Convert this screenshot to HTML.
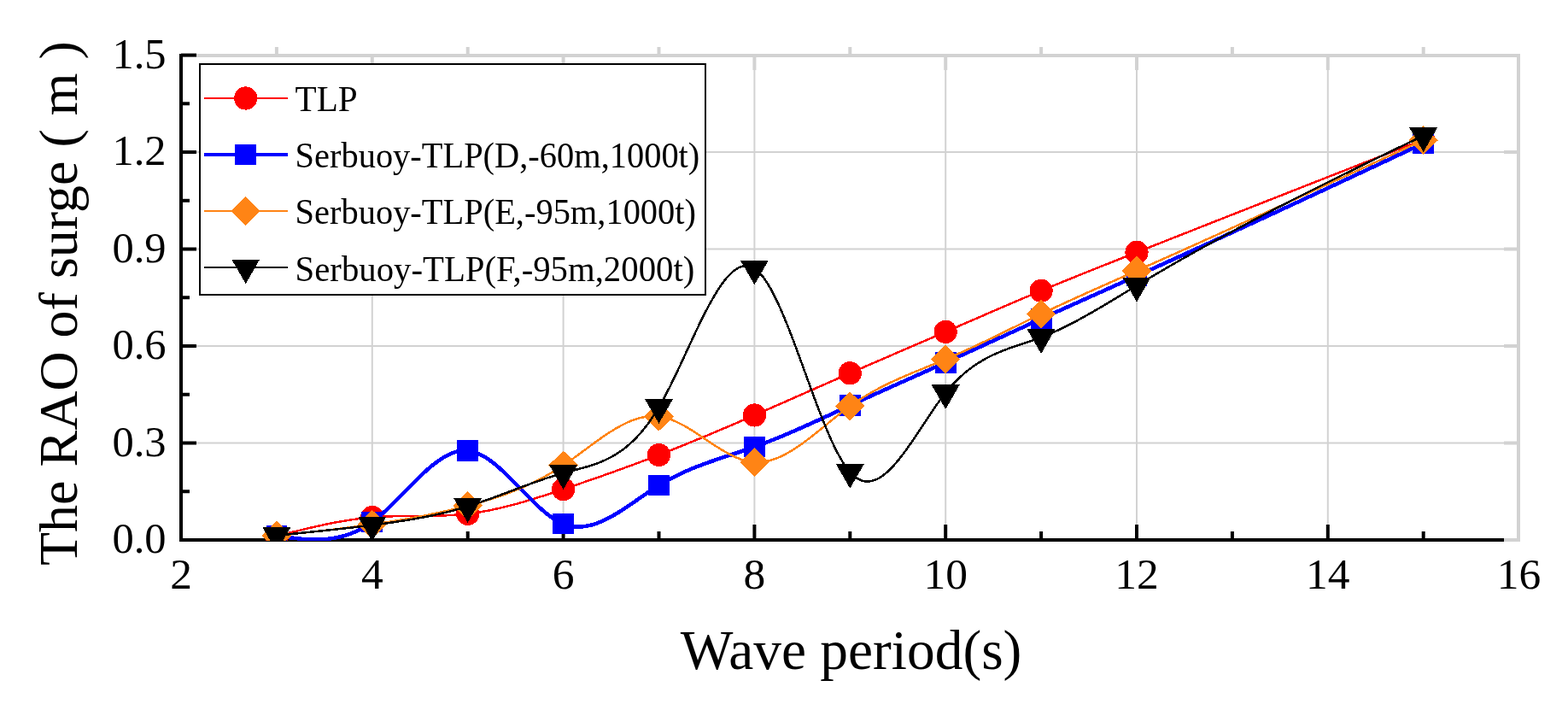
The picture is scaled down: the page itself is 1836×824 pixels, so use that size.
<!DOCTYPE html>
<html><head><meta charset="utf-8"><title>RAO of surge</title>
<style>html,body{margin:0;padding:0;background:#fff;}svg{display:block;}</style>
</head><body>
<svg width="1836" height="824" viewBox="0 0 1836 824"><defs><clipPath id="pc"><rect x="212" y="63" width="1566" height="570"/></clipPath></defs><rect width="1836" height="824" fill="#fff"/><line x1="435.80" y1="65" x2="435.80" y2="632" stroke="#d2d2d2" stroke-width="2"/>
<line x1="659.60" y1="65" x2="659.60" y2="632" stroke="#d2d2d2" stroke-width="2"/>
<line x1="883.40" y1="65" x2="883.40" y2="632" stroke="#d2d2d2" stroke-width="2"/>
<line x1="1107.20" y1="65" x2="1107.20" y2="632" stroke="#d2d2d2" stroke-width="2"/>
<line x1="1331.00" y1="65" x2="1331.00" y2="632" stroke="#d2d2d2" stroke-width="2"/>
<line x1="1554.80" y1="65" x2="1554.80" y2="632" stroke="#d2d2d2" stroke-width="2"/>
<line x1="212" y1="518.51" x2="1778" y2="518.51" stroke="#d2d2d2" stroke-width="2"/>
<line x1="212" y1="405.02" x2="1778" y2="405.02" stroke="#d2d2d2" stroke-width="2"/>
<line x1="212" y1="291.53" x2="1778" y2="291.53" stroke="#d2d2d2" stroke-width="2"/>
<line x1="212" y1="178.04" x2="1778" y2="178.04" stroke="#d2d2d2" stroke-width="2"/>
<path d="M210,65 L1780,65 M1778,63 L1778,634" stroke="#d2d2d2" stroke-width="4" fill="none"/>
<line x1="323.90" y1="65" x2="323.90" y2="55" stroke="#d2d2d2" stroke-width="4"/>
<line x1="435.80" y1="65" x2="435.80" y2="82" stroke="#d2d2d2" stroke-width="4"/>
<line x1="547.70" y1="65" x2="547.70" y2="55" stroke="#d2d2d2" stroke-width="4"/>
<line x1="659.60" y1="65" x2="659.60" y2="82" stroke="#d2d2d2" stroke-width="4"/>
<line x1="771.50" y1="65" x2="771.50" y2="55" stroke="#d2d2d2" stroke-width="4"/>
<line x1="883.40" y1="65" x2="883.40" y2="82" stroke="#d2d2d2" stroke-width="4"/>
<line x1="995.30" y1="65" x2="995.30" y2="55" stroke="#d2d2d2" stroke-width="4"/>
<line x1="1107.20" y1="65" x2="1107.20" y2="82" stroke="#d2d2d2" stroke-width="4"/>
<line x1="1219.10" y1="65" x2="1219.10" y2="55" stroke="#d2d2d2" stroke-width="4"/>
<line x1="1331.00" y1="65" x2="1331.00" y2="82" stroke="#d2d2d2" stroke-width="4"/>
<line x1="1442.90" y1="65" x2="1442.90" y2="55" stroke="#d2d2d2" stroke-width="4"/>
<line x1="1554.80" y1="65" x2="1554.80" y2="82" stroke="#d2d2d2" stroke-width="4"/>
<line x1="1666.70" y1="65" x2="1666.70" y2="55" stroke="#d2d2d2" stroke-width="4"/>
<line x1="1778" y1="632.00" x2="1761" y2="632.00" stroke="#d2d2d2" stroke-width="4"/>
<line x1="1778" y1="518.51" x2="1761" y2="518.51" stroke="#d2d2d2" stroke-width="4"/>
<line x1="1778" y1="405.02" x2="1761" y2="405.02" stroke="#d2d2d2" stroke-width="4"/>
<line x1="1778" y1="291.53" x2="1761" y2="291.53" stroke="#d2d2d2" stroke-width="4"/>
<line x1="1778" y1="178.04" x2="1761" y2="178.04" stroke="#d2d2d2" stroke-width="4"/>
<path d="M212,630 L212,634 M210,632 L1761,632" stroke="#000" stroke-width="4" fill="none"/>
<line x1="212" y1="63" x2="212" y2="634" stroke="#000" stroke-width="4"/>
<line x1="212" y1="632.00" x2="230" y2="632.00" stroke="#000" stroke-width="4"/>
<line x1="212" y1="575.25" x2="222" y2="575.25" stroke="#000" stroke-width="4"/>
<line x1="212" y1="518.51" x2="230" y2="518.51" stroke="#000" stroke-width="4"/>
<line x1="212" y1="461.76" x2="222" y2="461.76" stroke="#000" stroke-width="4"/>
<line x1="212" y1="405.02" x2="230" y2="405.02" stroke="#000" stroke-width="4"/>
<line x1="212" y1="348.27" x2="222" y2="348.27" stroke="#000" stroke-width="4"/>
<line x1="212" y1="291.53" x2="230" y2="291.53" stroke="#000" stroke-width="4"/>
<line x1="212" y1="234.78" x2="222" y2="234.78" stroke="#000" stroke-width="4"/>
<line x1="212" y1="178.04" x2="230" y2="178.04" stroke="#000" stroke-width="4"/>
<line x1="212" y1="121.30" x2="222" y2="121.30" stroke="#000" stroke-width="4"/>
<line x1="212" y1="64.55" x2="230" y2="64.55" stroke="#000" stroke-width="4"/>
<line x1="323.90" y1="632" x2="323.90" y2="622" stroke="#000" stroke-width="4"/>
<line x1="435.80" y1="632" x2="435.80" y2="614" stroke="#000" stroke-width="4"/>
<line x1="547.70" y1="632" x2="547.70" y2="622" stroke="#000" stroke-width="4"/>
<line x1="659.60" y1="632" x2="659.60" y2="614" stroke="#000" stroke-width="4"/>
<line x1="771.50" y1="632" x2="771.50" y2="622" stroke="#000" stroke-width="4"/>
<line x1="883.40" y1="632" x2="883.40" y2="614" stroke="#000" stroke-width="4"/>
<line x1="995.30" y1="632" x2="995.30" y2="622" stroke="#000" stroke-width="4"/>
<line x1="1107.20" y1="632" x2="1107.20" y2="614" stroke="#000" stroke-width="4"/>
<line x1="1219.10" y1="632" x2="1219.10" y2="622" stroke="#000" stroke-width="4"/>
<line x1="1331.00" y1="632" x2="1331.00" y2="614" stroke="#000" stroke-width="4"/>
<line x1="1442.90" y1="632" x2="1442.90" y2="622" stroke="#000" stroke-width="4"/>
<line x1="1554.80" y1="632" x2="1554.80" y2="614" stroke="#000" stroke-width="4"/>
<line x1="1666.70" y1="632" x2="1666.70" y2="622" stroke="#000" stroke-width="4"/>
<line x1="1778" y1="632" x2="1761" y2="632" stroke="#d2d2d2" stroke-width="4"/>
<g clip-path="url(#pc)" shape-rendering="crispEdges"><path d="M323.90,627.46 L326.14,626.89 L328.38,626.33 L330.63,625.76 L332.87,625.20 L335.11,624.63 L337.35,624.07 L339.59,623.51 L341.83,622.95 L344.08,622.40 L346.32,621.85 L348.56,621.30 L350.80,620.75 L353.04,620.21 L355.28,619.67 L357.53,619.13 L359.77,618.60 L362.01,618.08 L364.25,617.56 L366.49,617.05 L368.73,616.54 L370.98,616.03 L373.22,615.54 L375.46,615.05 L377.70,614.57 L379.94,614.09 L382.19,613.63 L384.43,613.17 L386.67,612.72 L388.91,612.27 L391.15,611.84 L393.39,611.42 L395.64,611.00 L397.88,610.60 L400.12,610.20 L402.36,609.82 L404.60,609.44 L406.84,609.08 L409.09,608.73 L411.33,608.39 L413.57,608.06 L415.81,607.74 L418.05,607.44 L420.29,607.15 L422.54,606.87 L424.78,606.61 L427.02,606.36 L429.26,606.12 L431.50,605.90 L433.75,605.70 L435.99,605.50 L438.23,605.33 L440.47,605.16 L442.71,605.02 L444.95,604.88 L447.20,604.76 L449.44,604.65 L451.68,604.55 L453.92,604.46 L456.16,604.38 L458.40,604.31 L460.65,604.25 L462.89,604.19 L465.13,604.15 L467.37,604.11 L469.61,604.07 L471.85,604.04 L474.10,604.02 L476.34,604.00 L478.58,603.98 L480.82,603.97 L483.06,603.95 L485.31,603.94 L487.55,603.93 L489.79,603.92 L492.03,603.90 L494.27,603.89 L496.51,603.87 L498.76,603.85 L501.00,603.83 L503.24,603.80 L505.48,603.77 L507.72,603.73 L509.96,603.68 L512.21,603.63 L514.45,603.57 L516.69,603.51 L518.93,603.43 L521.17,603.34 L523.41,603.25 L525.66,603.14 L527.90,603.02 L530.14,602.89 L532.38,602.74 L534.62,602.59 L536.86,602.41 L539.11,602.23 L541.35,602.02 L543.59,601.80 L545.83,601.57 L548.07,601.31 L550.32,601.04 L552.56,600.75 L554.80,600.44 L557.04,600.12 L559.28,599.78 L561.52,599.42 L563.77,599.05 L566.01,598.66 L568.25,598.25 L570.49,597.83 L572.73,597.39 L574.97,596.94 L577.22,596.48 L579.46,596.00 L581.70,595.51 L583.94,595.00 L586.18,594.49 L588.42,593.96 L590.67,593.41 L592.91,592.86 L595.15,592.29 L597.39,591.72 L599.63,591.13 L601.88,590.53 L604.12,589.92 L606.36,589.31 L608.60,588.68 L610.84,588.04 L613.08,587.40 L615.33,586.74 L617.57,586.08 L619.81,585.41 L622.05,584.74 L624.29,584.05 L626.53,583.36 L628.78,582.66 L631.02,581.96 L633.26,581.25 L635.50,580.54 L637.74,579.82 L639.98,579.09 L642.23,578.37 L644.47,577.63 L646.71,576.90 L648.95,576.16 L651.19,575.41 L653.44,574.67 L655.68,573.92 L657.92,573.17 L660.16,572.42 L662.40,571.67 L664.64,570.91 L666.89,570.15 L669.13,569.40 L671.37,568.64 L673.61,567.88 L675.85,567.11 L678.09,566.35 L680.34,565.58 L682.58,564.82 L684.82,564.05 L687.06,563.27 L689.30,562.50 L691.54,561.73 L693.79,560.95 L696.03,560.17 L698.27,559.39 L700.51,558.60 L702.75,557.82 L705.00,557.03 L707.24,556.24 L709.48,555.45 L711.72,554.65 L713.96,553.86 L716.20,553.06 L718.45,552.26 L720.69,551.45 L722.93,550.65 L725.17,549.84 L727.41,549.03 L729.65,548.21 L731.90,547.40 L734.14,546.58 L736.38,545.76 L738.62,544.93 L740.86,544.10 L743.10,543.27 L745.35,542.44 L747.59,541.61 L749.83,540.77 L752.07,539.93 L754.31,539.08 L756.56,538.23 L758.80,537.38 L761.04,536.53 L763.28,535.67 L765.52,534.81 L767.76,533.95 L770.01,533.09 L772.25,532.22 L774.49,531.34 L776.73,530.47 L778.97,529.59 L781.21,528.71 L783.46,527.82 L785.70,526.94 L787.94,526.04 L790.18,525.15 L792.42,524.25 L794.66,523.35 L796.91,522.45 L799.15,521.55 L801.39,520.64 L803.63,519.73 L805.87,518.82 L808.12,517.90 L810.36,516.98 L812.60,516.06 L814.84,515.14 L817.08,514.21 L819.32,513.28 L821.57,512.35 L823.81,511.42 L826.05,510.49 L828.29,509.55 L830.53,508.61 L832.77,507.67 L835.02,506.73 L837.26,505.78 L839.50,504.84 L841.74,503.89 L843.98,502.94 L846.22,501.99 L848.47,501.03 L850.71,500.08 L852.95,499.12 L855.19,498.16 L857.43,497.20 L859.67,496.24 L861.92,495.27 L864.16,494.31 L866.40,493.34 L868.64,492.38 L870.88,491.41 L873.13,490.44 L875.37,489.47 L877.61,488.49 L879.85,487.52 L882.09,486.55 L884.33,485.57 L886.58,484.59 L888.82,483.62 L891.06,482.64 L893.30,481.66 L895.54,480.68 L897.78,479.70 L900.03,478.72 L902.27,477.73 L904.51,476.75 L906.75,475.77 L908.99,474.78 L911.23,473.80 L913.48,472.81 L915.72,471.83 L917.96,470.84 L920.20,469.85 L922.44,468.87 L924.69,467.88 L926.93,466.89 L929.17,465.90 L931.41,464.91 L933.65,463.93 L935.89,462.94 L938.14,461.95 L940.38,460.96 L942.62,459.97 L944.86,458.98 L947.10,457.99 L949.34,457.00 L951.59,456.01 L953.83,455.03 L956.07,454.04 L958.31,453.05 L960.55,452.06 L962.79,451.07 L965.04,450.08 L967.28,449.10 L969.52,448.11 L971.76,447.12 L974.00,446.14 L976.25,445.15 L978.49,444.17 L980.73,443.18 L982.97,442.20 L985.21,441.21 L987.45,440.23 L989.70,439.25 L991.94,438.27 L994.18,437.29 L996.42,436.31 L998.66,435.33 L1000.90,434.35 L1003.15,433.37 L1005.39,432.40 L1007.63,431.42 L1009.87,430.44 L1012.11,429.47 L1014.35,428.50 L1016.60,427.52 L1018.84,426.55 L1021.08,425.58 L1023.32,424.60 L1025.56,423.63 L1027.81,422.66 L1030.05,421.69 L1032.29,420.72 L1034.53,419.75 L1036.77,418.78 L1039.01,417.81 L1041.26,416.85 L1043.50,415.88 L1045.74,414.91 L1047.98,413.94 L1050.22,412.97 L1052.46,412.01 L1054.71,411.04 L1056.95,410.07 L1059.19,409.10 L1061.43,408.14 L1063.67,407.17 L1065.91,406.20 L1068.16,405.24 L1070.40,404.27 L1072.64,403.30 L1074.88,402.34 L1077.12,401.37 L1079.37,400.40 L1081.61,399.44 L1083.85,398.47 L1086.09,397.50 L1088.33,396.53 L1090.57,395.56 L1092.82,394.60 L1095.06,393.63 L1097.30,392.66 L1099.54,391.69 L1101.78,390.72 L1104.02,389.75 L1106.27,388.78 L1108.51,387.81 L1110.75,386.84 L1112.99,385.87 L1115.23,384.89 L1117.47,383.92 L1119.72,382.95 L1121.96,381.98 L1124.20,381.00 L1126.44,380.03 L1128.68,379.06 L1130.93,378.08 L1133.17,377.11 L1135.41,376.14 L1137.65,375.16 L1139.89,374.19 L1142.13,373.22 L1144.38,372.25 L1146.62,371.28 L1148.86,370.30 L1151.10,369.33 L1153.34,368.36 L1155.58,367.39 L1157.83,366.42 L1160.07,365.46 L1162.31,364.49 L1164.55,363.52 L1166.79,362.55 L1169.03,361.59 L1171.28,360.62 L1173.52,359.66 L1175.76,358.70 L1178.00,357.73 L1180.24,356.77 L1182.48,355.81 L1184.73,354.85 L1186.97,353.90 L1189.21,352.94 L1191.45,351.99 L1193.69,351.03 L1195.94,350.08 L1198.18,349.13 L1200.42,348.18 L1202.66,347.23 L1204.90,346.28 L1207.14,345.34 L1209.39,344.40 L1211.63,343.46 L1213.87,342.52 L1216.11,341.58 L1218.35,340.64 L1220.59,339.71 L1222.84,338.78 L1225.08,337.85 L1227.32,336.92 L1229.56,335.99 L1231.80,335.07 L1234.04,334.14 L1236.29,333.22 L1238.53,332.30 L1240.77,331.38 L1243.01,330.47 L1245.25,329.55 L1247.50,328.64 L1249.74,327.72 L1251.98,326.81 L1254.22,325.90 L1256.46,325.00 L1258.70,324.09 L1260.95,323.18 L1263.19,322.28 L1265.43,321.38 L1267.67,320.47 L1269.91,319.57 L1272.15,318.67 L1274.40,317.77 L1276.64,316.88 L1278.88,315.98 L1281.12,315.08 L1283.36,314.19 L1285.60,313.30 L1287.85,312.40 L1290.09,311.51 L1292.33,310.62 L1294.57,309.73 L1296.81,308.84 L1299.06,307.95 L1301.30,307.06 L1303.54,306.17 L1305.78,305.28 L1308.02,304.39 L1310.26,303.51 L1312.51,302.62 L1314.75,301.73 L1316.99,300.85 L1319.23,299.96 L1321.47,299.07 L1323.71,298.19 L1325.96,297.30 L1328.20,296.42 L1330.44,295.53 L1332.68,294.65 L1334.92,293.76 L1337.16,292.88 L1339.41,292.00 L1341.65,291.11 L1343.89,290.23 L1346.13,289.34 L1348.37,288.46 L1350.62,287.57 L1352.86,286.69 L1355.10,285.80 L1357.34,284.92 L1359.58,284.04 L1361.82,283.15 L1364.07,282.27 L1366.31,281.38 L1368.55,280.50 L1370.79,279.62 L1373.03,278.73 L1375.27,277.85 L1377.52,276.97 L1379.76,276.08 L1382.00,275.20 L1384.24,274.32 L1386.48,273.43 L1388.72,272.55 L1390.97,271.67 L1393.21,270.78 L1395.45,269.90 L1397.69,269.02 L1399.93,268.13 L1402.18,267.25 L1404.42,266.37 L1406.66,265.48 L1408.90,264.60 L1411.14,263.72 L1413.38,262.84 L1415.63,261.95 L1417.87,261.07 L1420.11,260.19 L1422.35,259.30 L1424.59,258.42 L1426.83,257.54 L1429.08,256.66 L1431.32,255.77 L1433.56,254.89 L1435.80,254.01 L1438.04,253.13 L1440.28,252.25 L1442.53,251.36 L1444.77,250.48 L1447.01,249.60 L1449.25,248.72 L1451.49,247.83 L1453.74,246.95 L1455.98,246.07 L1458.22,245.19 L1460.46,244.31 L1462.70,243.43 L1464.94,242.54 L1467.19,241.66 L1469.43,240.78 L1471.67,239.90 L1473.91,239.02 L1476.15,238.13 L1478.39,237.25 L1480.64,236.37 L1482.88,235.49 L1485.12,234.61 L1487.36,233.73 L1489.60,232.85 L1491.84,231.96 L1494.09,231.08 L1496.33,230.20 L1498.57,229.32 L1500.81,228.44 L1503.05,227.56 L1505.29,226.68 L1507.54,225.80 L1509.78,224.91 L1512.02,224.03 L1514.26,223.15 L1516.50,222.27 L1518.75,221.39 L1520.99,220.51 L1523.23,219.63 L1525.47,218.75 L1527.71,217.87 L1529.95,216.99 L1532.20,216.11 L1534.44,215.22 L1536.68,214.34 L1538.92,213.46 L1541.16,212.58 L1543.40,211.70 L1545.65,210.82 L1547.89,209.94 L1550.13,209.06 L1552.37,208.18 L1554.61,207.30 L1556.85,206.42 L1559.10,205.54 L1561.34,204.66 L1563.58,203.78 L1565.82,202.90 L1568.06,202.01 L1570.31,201.13 L1572.55,200.25 L1574.79,199.37 L1577.03,198.49 L1579.27,197.61 L1581.51,196.73 L1583.76,195.85 L1586.00,194.97 L1588.24,194.09 L1590.48,193.21 L1592.72,192.33 L1594.96,191.45 L1597.21,190.57 L1599.45,189.69 L1601.69,188.81 L1603.93,187.93 L1606.17,187.05 L1608.41,186.17 L1610.66,185.29 L1612.90,184.41 L1615.14,183.53 L1617.38,182.65 L1619.62,181.77 L1621.87,180.89 L1624.11,180.01 L1626.35,179.13 L1628.59,178.25 L1630.83,177.37 L1633.07,176.49 L1635.32,175.61 L1637.56,174.73 L1639.80,173.85 L1642.04,172.97 L1644.28,172.09 L1646.52,171.21 L1648.77,170.33 L1651.01,169.45 L1653.25,168.57 L1655.49,167.69 L1657.73,166.81 L1659.97,165.93 L1662.22,165.05 L1664.46,164.17 L1666.70,163.29" stroke="#ff0000" stroke-width="2.5" fill="none" stroke-linejoin="round"/><circle cx="323.90" cy="627.46" r="13.6" fill="#ff0000"/><circle cx="435.80" cy="605.52" r="13.6" fill="#ff0000"/><circle cx="547.70" cy="601.36" r="13.6" fill="#ff0000"/><circle cx="659.60" cy="572.61" r="13.6" fill="#ff0000"/><circle cx="771.50" cy="532.51" r="13.6" fill="#ff0000"/><circle cx="883.40" cy="485.98" r="13.6" fill="#ff0000"/><circle cx="995.30" cy="436.80" r="13.6" fill="#ff0000"/><circle cx="1107.20" cy="388.37" r="13.6" fill="#ff0000"/><circle cx="1219.10" cy="340.33" r="13.6" fill="#ff0000"/><circle cx="1331.00" cy="295.31" r="13.6" fill="#ff0000"/><circle cx="1666.70" cy="163.29" r="13.6" fill="#ff0000"/><path d="M323.90,627.08 L326.14,627.41 L328.38,627.73 L330.63,628.05 L332.87,628.37 L335.11,628.68 L337.35,628.99 L339.59,629.28 L341.83,629.56 L344.08,629.83 L346.32,630.09 L348.56,630.33 L350.80,630.55 L353.04,630.75 L355.28,630.94 L357.53,631.10 L359.77,631.24 L362.01,631.35 L364.25,631.43 L366.49,631.49 L368.73,631.52 L370.98,631.52 L373.22,631.48 L375.46,631.41 L377.70,631.30 L379.94,631.16 L382.19,630.97 L384.43,630.75 L386.67,630.48 L388.91,630.17 L391.15,629.81 L393.39,629.41 L395.64,628.95 L397.88,628.45 L400.12,627.89 L402.36,627.29 L404.60,626.62 L406.84,625.90 L409.09,625.12 L411.33,624.29 L413.57,623.39 L415.81,622.42 L418.05,621.40 L420.29,620.31 L422.54,619.15 L424.78,617.92 L427.02,616.62 L429.26,615.24 L431.50,613.80 L433.75,612.28 L435.99,610.68 L438.23,609.00 L440.47,607.25 L442.71,605.44 L444.95,603.55 L447.20,601.61 L449.44,599.62 L451.68,597.57 L453.92,595.48 L456.16,593.34 L458.40,591.17 L460.65,588.97 L462.89,586.74 L465.13,584.49 L467.37,582.22 L469.61,579.94 L471.85,577.65 L474.10,575.35 L476.34,573.06 L478.58,570.77 L480.82,568.49 L483.06,566.23 L485.31,563.98 L487.55,561.76 L489.79,559.56 L492.03,557.40 L494.27,555.28 L496.51,553.20 L498.76,551.16 L501.00,549.18 L503.24,547.25 L505.48,545.39 L507.72,543.59 L509.96,541.86 L512.21,540.20 L514.45,538.62 L516.69,537.13 L518.93,535.73 L521.17,534.42 L523.41,533.20 L525.66,532.09 L527.90,531.09 L530.14,530.19 L532.38,529.42 L534.62,528.76 L536.86,528.23 L539.11,527.83 L541.35,527.57 L543.59,527.44 L545.83,527.46 L548.07,527.63 L550.32,527.95 L552.56,528.41 L554.80,529.01 L557.04,529.75 L559.28,530.62 L561.52,531.61 L563.77,532.72 L566.01,533.94 L568.25,535.27 L570.49,536.70 L572.73,538.23 L574.97,539.85 L577.22,541.55 L579.46,543.33 L581.70,545.19 L583.94,547.11 L586.18,549.10 L588.42,551.14 L590.67,553.23 L592.91,555.37 L595.15,557.55 L597.39,559.77 L599.63,562.01 L601.88,564.28 L604.12,566.57 L606.36,568.87 L608.60,571.17 L610.84,573.48 L613.08,575.78 L615.33,578.07 L617.57,580.35 L619.81,582.61 L622.05,584.84 L624.29,587.03 L626.53,589.19 L628.78,591.31 L631.02,593.38 L633.26,595.39 L635.50,597.35 L637.74,599.24 L639.98,601.06 L642.23,602.80 L644.47,604.46 L646.71,606.03 L648.95,607.51 L651.19,608.89 L653.44,610.16 L655.68,611.33 L657.92,612.38 L660.16,613.31 L662.40,614.11 L664.64,614.79 L666.89,615.36 L669.13,615.81 L671.37,616.15 L673.61,616.38 L675.85,616.51 L678.09,616.53 L680.34,616.46 L682.58,616.29 L684.82,616.02 L687.06,615.67 L689.30,615.23 L691.54,614.71 L693.79,614.11 L696.03,613.43 L698.27,612.68 L700.51,611.86 L702.75,610.97 L705.00,610.02 L707.24,609.00 L709.48,607.93 L711.72,606.81 L713.96,605.63 L716.20,604.41 L718.45,603.14 L720.69,601.83 L722.93,600.48 L725.17,599.10 L727.41,597.69 L729.65,596.24 L731.90,594.77 L734.14,593.28 L736.38,591.77 L738.62,590.25 L740.86,588.71 L743.10,587.16 L745.35,585.60 L747.59,584.04 L749.83,582.49 L752.07,580.93 L754.31,579.38 L756.56,577.84 L758.80,576.32 L761.04,574.81 L763.28,573.32 L765.52,571.85 L767.76,570.41 L770.01,568.99 L772.25,567.61 L774.49,566.26 L776.73,564.95 L778.97,563.66 L781.21,562.41 L783.46,561.19 L785.70,559.99 L787.94,558.83 L790.18,557.69 L792.42,556.58 L794.66,555.49 L796.91,554.43 L799.15,553.40 L801.39,552.38 L803.63,551.39 L805.87,550.42 L808.12,549.47 L810.36,548.54 L812.60,547.62 L814.84,546.73 L817.08,545.85 L819.32,544.99 L821.57,544.14 L823.81,543.30 L826.05,542.48 L828.29,541.67 L830.53,540.87 L832.77,540.08 L835.02,539.31 L837.26,538.54 L839.50,537.77 L841.74,537.02 L843.98,536.27 L846.22,535.52 L848.47,534.78 L850.71,534.04 L852.95,533.31 L855.19,532.57 L857.43,531.84 L859.67,531.10 L861.92,530.36 L864.16,529.62 L866.40,528.88 L868.64,528.13 L870.88,527.38 L873.13,526.62 L875.37,525.86 L877.61,525.09 L879.85,524.31 L882.09,523.52 L884.33,522.71 L886.58,521.90 L888.82,521.08 L891.06,520.25 L893.30,519.40 L895.54,518.55 L897.78,517.69 L900.03,516.81 L902.27,515.93 L904.51,515.04 L906.75,514.14 L908.99,513.24 L911.23,512.32 L913.48,511.40 L915.72,510.47 L917.96,509.53 L920.20,508.58 L922.44,507.63 L924.69,506.67 L926.93,505.71 L929.17,504.74 L931.41,503.76 L933.65,502.78 L935.89,501.79 L938.14,500.80 L940.38,499.80 L942.62,498.80 L944.86,497.80 L947.10,496.79 L949.34,495.77 L951.59,494.76 L953.83,493.74 L956.07,492.72 L958.31,491.69 L960.55,490.66 L962.79,489.63 L965.04,488.60 L967.28,487.57 L969.52,486.53 L971.76,485.50 L974.00,484.46 L976.25,483.43 L978.49,482.39 L980.73,481.35 L982.97,480.31 L985.21,479.28 L987.45,478.24 L989.70,477.21 L991.94,476.17 L994.18,475.14 L996.42,474.11 L998.66,473.08 L1000.90,472.06 L1003.15,471.03 L1005.39,470.01 L1007.63,468.99 L1009.87,467.97 L1012.11,466.95 L1014.35,465.93 L1016.60,464.92 L1018.84,463.90 L1021.08,462.89 L1023.32,461.88 L1025.56,460.87 L1027.81,459.86 L1030.05,458.85 L1032.29,457.84 L1034.53,456.84 L1036.77,455.83 L1039.01,454.83 L1041.26,453.82 L1043.50,452.82 L1045.74,451.82 L1047.98,450.81 L1050.22,449.81 L1052.46,448.81 L1054.71,447.81 L1056.95,446.81 L1059.19,445.81 L1061.43,444.81 L1063.67,443.81 L1065.91,442.81 L1068.16,441.80 L1070.40,440.80 L1072.64,439.80 L1074.88,438.80 L1077.12,437.80 L1079.37,436.80 L1081.61,435.80 L1083.85,434.80 L1086.09,433.79 L1088.33,432.79 L1090.57,431.79 L1092.82,430.78 L1095.06,429.78 L1097.30,428.77 L1099.54,427.76 L1101.78,426.75 L1104.02,425.74 L1106.27,424.73 L1108.51,423.72 L1110.75,422.71 L1112.99,421.70 L1115.23,420.68 L1117.47,419.67 L1119.72,418.65 L1121.96,417.63 L1124.20,416.61 L1126.44,415.60 L1128.68,414.58 L1130.93,413.55 L1133.17,412.53 L1135.41,411.51 L1137.65,410.49 L1139.89,409.46 L1142.13,408.44 L1144.38,407.42 L1146.62,406.39 L1148.86,405.37 L1151.10,404.34 L1153.34,403.31 L1155.58,402.29 L1157.83,401.26 L1160.07,400.23 L1162.31,399.21 L1164.55,398.18 L1166.79,397.15 L1169.03,396.12 L1171.28,395.10 L1173.52,394.07 L1175.76,393.04 L1178.00,392.01 L1180.24,390.99 L1182.48,389.96 L1184.73,388.93 L1186.97,387.91 L1189.21,386.88 L1191.45,385.85 L1193.69,384.83 L1195.94,383.80 L1198.18,382.78 L1200.42,381.75 L1202.66,380.73 L1204.90,379.71 L1207.14,378.68 L1209.39,377.66 L1211.63,376.64 L1213.87,375.62 L1216.11,374.60 L1218.35,373.58 L1220.59,372.56 L1222.84,371.55 L1225.08,370.53 L1227.32,369.52 L1229.56,368.50 L1231.80,367.49 L1234.04,366.47 L1236.29,365.46 L1238.53,364.45 L1240.77,363.44 L1243.01,362.43 L1245.25,361.42 L1247.50,360.41 L1249.74,359.40 L1251.98,358.39 L1254.22,357.38 L1256.46,356.37 L1258.70,355.37 L1260.95,354.36 L1263.19,353.35 L1265.43,352.35 L1267.67,351.34 L1269.91,350.34 L1272.15,349.33 L1274.40,348.32 L1276.64,347.32 L1278.88,346.31 L1281.12,345.31 L1283.36,344.31 L1285.60,343.30 L1287.85,342.30 L1290.09,341.29 L1292.33,340.29 L1294.57,339.28 L1296.81,338.28 L1299.06,337.27 L1301.30,336.27 L1303.54,335.26 L1305.78,334.26 L1308.02,333.25 L1310.26,332.25 L1312.51,331.24 L1314.75,330.24 L1316.99,329.23 L1319.23,328.22 L1321.47,327.21 L1323.71,326.21 L1325.96,325.20 L1328.20,324.19 L1330.44,323.18 L1332.68,322.17 L1334.92,321.16 L1337.16,320.15 L1339.41,319.14 L1341.65,318.13 L1343.89,317.12 L1346.13,316.10 L1348.37,315.09 L1350.62,314.08 L1352.86,313.06 L1355.10,312.05 L1357.34,311.03 L1359.58,310.02 L1361.82,309.00 L1364.07,307.98 L1366.31,306.97 L1368.55,305.95 L1370.79,304.93 L1373.03,303.91 L1375.27,302.89 L1377.52,301.87 L1379.76,300.85 L1382.00,299.83 L1384.24,298.81 L1386.48,297.79 L1388.72,296.77 L1390.97,295.75 L1393.21,294.73 L1395.45,293.70 L1397.69,292.68 L1399.93,291.66 L1402.18,290.63 L1404.42,289.61 L1406.66,288.58 L1408.90,287.56 L1411.14,286.53 L1413.38,285.51 L1415.63,284.48 L1417.87,283.45 L1420.11,282.42 L1422.35,281.40 L1424.59,280.37 L1426.83,279.34 L1429.08,278.31 L1431.32,277.28 L1433.56,276.25 L1435.80,275.22 L1438.04,274.19 L1440.28,273.16 L1442.53,272.13 L1444.77,271.10 L1447.01,270.07 L1449.25,269.03 L1451.49,268.00 L1453.74,266.97 L1455.98,265.94 L1458.22,264.90 L1460.46,263.87 L1462.70,262.83 L1464.94,261.80 L1467.19,260.76 L1469.43,259.73 L1471.67,258.69 L1473.91,257.66 L1476.15,256.62 L1478.39,255.59 L1480.64,254.55 L1482.88,253.51 L1485.12,252.47 L1487.36,251.44 L1489.60,250.40 L1491.84,249.36 L1494.09,248.32 L1496.33,247.28 L1498.57,246.25 L1500.81,245.21 L1503.05,244.17 L1505.29,243.13 L1507.54,242.09 L1509.78,241.05 L1512.02,240.01 L1514.26,238.97 L1516.50,237.93 L1518.75,236.88 L1520.99,235.84 L1523.23,234.80 L1525.47,233.76 L1527.71,232.72 L1529.95,231.68 L1532.20,230.63 L1534.44,229.59 L1536.68,228.55 L1538.92,227.50 L1541.16,226.46 L1543.40,225.42 L1545.65,224.37 L1547.89,223.33 L1550.13,222.29 L1552.37,221.24 L1554.61,220.20 L1556.85,219.15 L1559.10,218.11 L1561.34,217.06 L1563.58,216.02 L1565.82,214.97 L1568.06,213.93 L1570.31,212.88 L1572.55,211.84 L1574.79,210.79 L1577.03,209.74 L1579.27,208.70 L1581.51,207.65 L1583.76,206.61 L1586.00,205.56 L1588.24,204.51 L1590.48,203.47 L1592.72,202.42 L1594.96,201.37 L1597.21,200.32 L1599.45,199.28 L1601.69,198.23 L1603.93,197.18 L1606.17,196.13 L1608.41,195.09 L1610.66,194.04 L1612.90,192.99 L1615.14,191.94 L1617.38,190.90 L1619.62,189.85 L1621.87,188.80 L1624.11,187.75 L1626.35,186.70 L1628.59,185.65 L1630.83,184.61 L1633.07,183.56 L1635.32,182.51 L1637.56,181.46 L1639.80,180.41 L1642.04,179.36 L1644.28,178.31 L1646.52,177.27 L1648.77,176.22 L1651.01,175.17 L1653.25,174.12 L1655.49,173.07 L1657.73,172.02 L1659.97,170.97 L1662.22,169.92 L1664.46,168.87 L1666.70,167.83" stroke="#0000ff" stroke-width="4.5" fill="none" stroke-linejoin="round"/><rect x="311.50" y="614.88" width="24.8" height="24.4" fill="#0000ff"/><rect x="423.40" y="598.62" width="24.8" height="24.4" fill="#0000ff"/><rect x="535.30" y="515.39" width="24.8" height="24.4" fill="#0000ff"/><rect x="647.20" y="600.88" width="24.8" height="24.4" fill="#0000ff"/><rect x="759.10" y="555.87" width="24.8" height="24.4" fill="#0000ff"/><rect x="871.00" y="510.85" width="24.8" height="24.4" fill="#0000ff"/><rect x="982.90" y="462.43" width="24.8" height="24.4" fill="#0000ff"/><rect x="1094.80" y="412.11" width="24.8" height="24.4" fill="#0000ff"/><rect x="1206.70" y="361.04" width="24.8" height="24.4" fill="#0000ff"/><rect x="1318.60" y="310.73" width="24.8" height="24.4" fill="#0000ff"/><rect x="1654.30" y="155.63" width="24.8" height="24.4" fill="#0000ff"/><path d="M323.90,626.89 L326.14,626.66 L328.38,626.43 L330.63,626.20 L332.87,625.97 L335.11,625.73 L337.35,625.50 L339.59,625.27 L341.83,625.03 L344.08,624.80 L346.32,624.56 L348.56,624.33 L350.80,624.09 L353.04,623.86 L355.28,623.62 L357.53,623.38 L359.77,623.14 L362.01,622.90 L364.25,622.65 L366.49,622.41 L368.73,622.16 L370.98,621.92 L373.22,621.67 L375.46,621.42 L377.70,621.17 L379.94,620.92 L382.19,620.66 L384.43,620.40 L386.67,620.14 L388.91,619.88 L391.15,619.62 L393.39,619.36 L395.64,619.09 L397.88,618.82 L400.12,618.55 L402.36,618.27 L404.60,618.00 L406.84,617.72 L409.09,617.43 L411.33,617.15 L413.57,616.86 L415.81,616.57 L418.05,616.28 L420.29,615.98 L422.54,615.68 L424.78,615.38 L427.02,615.07 L429.26,614.76 L431.50,614.45 L433.75,614.13 L435.99,613.81 L438.23,613.49 L440.47,613.16 L442.71,612.83 L444.95,612.50 L447.20,612.16 L449.44,611.82 L451.68,611.47 L453.92,611.12 L456.16,610.77 L458.40,610.41 L460.65,610.05 L462.89,609.68 L465.13,609.31 L467.37,608.93 L469.61,608.55 L471.85,608.16 L474.10,607.77 L476.34,607.38 L478.58,606.98 L480.82,606.57 L483.06,606.16 L485.31,605.75 L487.55,605.33 L489.79,604.90 L492.03,604.47 L494.27,604.04 L496.51,603.60 L498.76,603.15 L501.00,602.70 L503.24,602.24 L505.48,601.78 L507.72,601.31 L509.96,600.83 L512.21,600.35 L514.45,599.87 L516.69,599.37 L518.93,598.87 L521.17,598.37 L523.41,597.86 L525.66,597.34 L527.90,596.82 L530.14,596.29 L532.38,595.75 L534.62,595.21 L536.86,594.66 L539.11,594.10 L541.35,593.53 L543.59,592.96 L545.83,592.39 L548.07,591.80 L550.32,591.21 L552.56,590.61 L554.80,590.00 L557.04,589.39 L559.28,588.76 L561.52,588.13 L563.77,587.49 L566.01,586.83 L568.25,586.17 L570.49,585.49 L572.73,584.81 L574.97,584.11 L577.22,583.39 L579.46,582.67 L581.70,581.93 L583.94,581.18 L586.18,580.41 L588.42,579.63 L590.67,578.84 L592.91,578.03 L595.15,577.20 L597.39,576.35 L599.63,575.49 L601.88,574.62 L604.12,573.72 L606.36,572.81 L608.60,571.87 L610.84,570.92 L613.08,569.95 L615.33,568.96 L617.57,567.95 L619.81,566.91 L622.05,565.86 L624.29,564.78 L626.53,563.68 L628.78,562.56 L631.02,561.42 L633.26,560.25 L635.50,559.06 L637.74,557.84 L639.98,556.60 L642.23,555.34 L644.47,554.04 L646.71,552.73 L648.95,551.38 L651.19,550.01 L653.44,548.61 L655.68,547.18 L657.92,545.72 L660.16,544.24 L662.40,542.73 L664.64,541.19 L666.89,539.62 L669.13,538.04 L671.37,536.44 L673.61,534.82 L675.85,533.19 L678.09,531.55 L680.34,529.90 L682.58,528.24 L684.82,526.59 L687.06,524.93 L689.30,523.28 L691.54,521.63 L693.79,519.99 L696.03,518.36 L698.27,516.74 L700.51,515.14 L702.75,513.55 L705.00,511.99 L707.24,510.45 L709.48,508.93 L711.72,507.45 L713.96,505.99 L716.20,504.57 L718.45,503.19 L720.69,501.84 L722.93,500.54 L725.17,499.28 L727.41,498.06 L729.65,496.90 L731.90,495.79 L734.14,494.73 L736.38,493.73 L738.62,492.79 L740.86,491.91 L743.10,491.09 L745.35,490.35 L747.59,489.67 L749.83,489.06 L752.07,488.54 L754.31,488.08 L756.56,487.71 L758.80,487.43 L761.04,487.22 L763.28,487.11 L765.52,487.09 L767.76,487.16 L770.01,487.32 L772.25,487.59 L774.49,487.95 L776.73,488.41 L778.97,488.96 L781.21,489.60 L783.46,490.31 L785.70,491.11 L787.94,491.98 L790.18,492.92 L792.42,493.93 L794.66,495.00 L796.91,496.12 L799.15,497.30 L801.39,498.53 L803.63,499.80 L805.87,501.12 L808.12,502.47 L810.36,503.86 L812.60,505.27 L814.84,506.71 L817.08,508.17 L819.32,509.65 L821.57,511.14 L823.81,512.63 L826.05,514.13 L828.29,515.63 L830.53,517.13 L832.77,518.62 L835.02,520.10 L837.26,521.55 L839.50,522.99 L841.74,524.41 L843.98,525.79 L846.22,527.14 L848.47,528.46 L850.71,529.73 L852.95,530.96 L855.19,532.14 L857.43,533.26 L859.67,534.33 L861.92,535.33 L864.16,536.27 L866.40,537.14 L868.64,537.94 L870.88,538.65 L873.13,539.29 L875.37,539.83 L877.61,540.29 L879.85,540.65 L882.09,540.91 L884.33,541.07 L886.58,541.13 L888.82,541.08 L891.06,540.94 L893.30,540.69 L895.54,540.36 L897.78,539.93 L900.03,539.42 L902.27,538.83 L904.51,538.15 L906.75,537.39 L908.99,536.55 L911.23,535.65 L913.48,534.67 L915.72,533.62 L917.96,532.51 L920.20,531.34 L922.44,530.11 L924.69,528.82 L926.93,527.47 L929.17,526.08 L931.41,524.64 L933.65,523.15 L935.89,521.62 L938.14,520.05 L940.38,518.45 L942.62,516.81 L944.86,515.14 L947.10,513.44 L949.34,511.71 L951.59,509.97 L953.83,508.20 L956.07,506.41 L958.31,504.62 L960.55,502.81 L962.79,500.99 L965.04,499.16 L967.28,497.33 L969.52,495.51 L971.76,493.68 L974.00,491.86 L976.25,490.05 L978.49,488.25 L980.73,486.46 L982.97,484.69 L985.21,482.94 L987.45,481.22 L989.70,479.51 L991.94,477.84 L994.18,476.19 L996.42,474.58 L998.66,473.01 L1000.90,471.46 L1003.15,469.95 L1005.39,468.48 L1007.63,467.03 L1009.87,465.61 L1012.11,464.23 L1014.35,462.87 L1016.60,461.54 L1018.84,460.23 L1021.08,458.96 L1023.32,457.70 L1025.56,456.47 L1027.81,455.27 L1030.05,454.08 L1032.29,452.92 L1034.53,451.78 L1036.77,450.66 L1039.01,449.56 L1041.26,448.47 L1043.50,447.40 L1045.74,446.35 L1047.98,445.32 L1050.22,444.30 L1052.46,443.29 L1054.71,442.29 L1056.95,441.31 L1059.19,440.34 L1061.43,439.37 L1063.67,438.42 L1065.91,437.48 L1068.16,436.54 L1070.40,435.61 L1072.64,434.69 L1074.88,433.77 L1077.12,432.85 L1079.37,431.94 L1081.61,431.03 L1083.85,430.12 L1086.09,429.21 L1088.33,428.31 L1090.57,427.40 L1092.82,426.49 L1095.06,425.57 L1097.30,424.65 L1099.54,423.73 L1101.78,422.80 L1104.02,421.87 L1106.27,420.93 L1108.51,419.98 L1110.75,419.02 L1112.99,418.05 L1115.23,417.08 L1117.47,416.09 L1119.72,415.10 L1121.96,414.11 L1124.20,413.10 L1126.44,412.09 L1128.68,411.08 L1130.93,410.05 L1133.17,409.02 L1135.41,407.99 L1137.65,406.95 L1139.89,405.90 L1142.13,404.85 L1144.38,403.80 L1146.62,402.74 L1148.86,401.68 L1151.10,400.61 L1153.34,399.54 L1155.58,398.46 L1157.83,397.38 L1160.07,396.30 L1162.31,395.22 L1164.55,394.13 L1166.79,393.04 L1169.03,391.95 L1171.28,390.86 L1173.52,389.77 L1175.76,388.67 L1178.00,387.57 L1180.24,386.48 L1182.48,385.38 L1184.73,384.28 L1186.97,383.18 L1189.21,382.08 L1191.45,380.98 L1193.69,379.89 L1195.94,378.79 L1198.18,377.69 L1200.42,376.60 L1202.66,375.51 L1204.90,374.42 L1207.14,373.33 L1209.39,372.24 L1211.63,371.16 L1213.87,370.08 L1216.11,369.00 L1218.35,367.93 L1220.59,366.85 L1222.84,365.79 L1225.08,364.72 L1227.32,363.66 L1229.56,362.61 L1231.80,361.55 L1234.04,360.50 L1236.29,359.45 L1238.53,358.41 L1240.77,357.37 L1243.01,356.33 L1245.25,355.29 L1247.50,354.26 L1249.74,353.23 L1251.98,352.20 L1254.22,351.17 L1256.46,350.15 L1258.70,349.13 L1260.95,348.11 L1263.19,347.09 L1265.43,346.08 L1267.67,345.06 L1269.91,344.05 L1272.15,343.04 L1274.40,342.03 L1276.64,341.03 L1278.88,340.02 L1281.12,339.02 L1283.36,338.02 L1285.60,337.01 L1287.85,336.01 L1290.09,335.02 L1292.33,334.02 L1294.57,333.02 L1296.81,332.02 L1299.06,331.03 L1301.30,330.03 L1303.54,329.04 L1305.78,328.05 L1308.02,327.05 L1310.26,326.06 L1312.51,325.07 L1314.75,324.08 L1316.99,323.08 L1319.23,322.09 L1321.47,321.10 L1323.71,320.10 L1325.96,319.11 L1328.20,318.12 L1330.44,317.12 L1332.68,316.13 L1334.92,315.14 L1337.16,314.14 L1339.41,313.14 L1341.65,312.15 L1343.89,311.15 L1346.13,310.15 L1348.37,309.16 L1350.62,308.16 L1352.86,307.16 L1355.10,306.16 L1357.34,305.16 L1359.58,304.16 L1361.82,303.16 L1364.07,302.16 L1366.31,301.15 L1368.55,300.15 L1370.79,299.15 L1373.03,298.15 L1375.27,297.14 L1377.52,296.14 L1379.76,295.13 L1382.00,294.13 L1384.24,293.12 L1386.48,292.12 L1388.72,291.11 L1390.97,290.10 L1393.21,289.10 L1395.45,288.09 L1397.69,287.08 L1399.93,286.07 L1402.18,285.06 L1404.42,284.05 L1406.66,283.04 L1408.90,282.03 L1411.14,281.02 L1413.38,280.01 L1415.63,279.00 L1417.87,277.99 L1420.11,276.98 L1422.35,275.96 L1424.59,274.95 L1426.83,273.94 L1429.08,272.92 L1431.32,271.91 L1433.56,270.90 L1435.80,269.88 L1438.04,268.87 L1440.28,267.85 L1442.53,266.83 L1444.77,265.82 L1447.01,264.80 L1449.25,263.78 L1451.49,262.77 L1453.74,261.75 L1455.98,260.73 L1458.22,259.71 L1460.46,258.69 L1462.70,257.68 L1464.94,256.66 L1467.19,255.64 L1469.43,254.62 L1471.67,253.60 L1473.91,252.58 L1476.15,251.55 L1478.39,250.53 L1480.64,249.51 L1482.88,248.49 L1485.12,247.47 L1487.36,246.45 L1489.60,245.42 L1491.84,244.40 L1494.09,243.38 L1496.33,242.35 L1498.57,241.33 L1500.81,240.31 L1503.05,239.28 L1505.29,238.26 L1507.54,237.23 L1509.78,236.21 L1512.02,235.18 L1514.26,234.16 L1516.50,233.13 L1518.75,232.10 L1520.99,231.08 L1523.23,230.05 L1525.47,229.03 L1527.71,228.00 L1529.95,226.97 L1532.20,225.94 L1534.44,224.92 L1536.68,223.89 L1538.92,222.86 L1541.16,221.83 L1543.40,220.80 L1545.65,219.78 L1547.89,218.75 L1550.13,217.72 L1552.37,216.69 L1554.61,215.66 L1556.85,214.63 L1559.10,213.60 L1561.34,212.57 L1563.58,211.54 L1565.82,210.51 L1568.06,209.48 L1570.31,208.45 L1572.55,207.42 L1574.79,206.39 L1577.03,205.36 L1579.27,204.33 L1581.51,203.30 L1583.76,202.26 L1586.00,201.23 L1588.24,200.20 L1590.48,199.17 L1592.72,198.14 L1594.96,197.11 L1597.21,196.07 L1599.45,195.04 L1601.69,194.01 L1603.93,192.98 L1606.17,191.94 L1608.41,190.91 L1610.66,189.88 L1612.90,188.85 L1615.14,187.81 L1617.38,186.78 L1619.62,185.75 L1621.87,184.71 L1624.11,183.68 L1626.35,182.65 L1628.59,181.61 L1630.83,180.58 L1633.07,179.55 L1635.32,178.51 L1637.56,177.48 L1639.80,176.45 L1642.04,175.41 L1644.28,174.38 L1646.52,173.35 L1648.77,172.31 L1651.01,171.28 L1653.25,170.25 L1655.49,169.21 L1657.73,168.18 L1659.97,167.14 L1662.22,166.11 L1664.46,165.08 L1666.70,164.04" stroke="#ff8415" stroke-width="2.5" fill="none" stroke-linejoin="round"/><path d="M323.90,609.89 L341.20,626.89 L323.90,643.89 L306.60,626.89Z" fill="#ff8415"/><path d="M435.80,596.84 L453.10,613.84 L435.80,630.84 L418.50,613.84Z" fill="#ff8415"/><path d="M547.70,574.90 L565.00,591.90 L547.70,608.90 L530.40,591.90Z" fill="#ff8415"/><path d="M659.60,527.61 L676.90,544.61 L659.60,561.61 L642.30,544.61Z" fill="#ff8415"/><path d="M771.50,470.49 L788.80,487.49 L771.50,504.49 L754.20,487.49Z" fill="#ff8415"/><path d="M883.40,524.02 L900.70,541.02 L883.40,558.02 L866.10,541.02Z" fill="#ff8415"/><path d="M995.30,458.38 L1012.60,475.38 L995.30,492.38 L978.00,475.38Z" fill="#ff8415"/><path d="M1107.20,403.53 L1124.50,420.53 L1107.20,437.53 L1089.90,420.53Z" fill="#ff8415"/><path d="M1219.10,350.57 L1236.40,367.57 L1219.10,384.57 L1201.80,367.57Z" fill="#ff8415"/><path d="M1331.00,299.88 L1348.30,316.88 L1331.00,333.88 L1313.70,316.88Z" fill="#ff8415"/><path d="M1666.70,147.04 L1684.00,164.04 L1666.70,181.04 L1649.40,164.04Z" fill="#ff8415"/><path d="M323.90,626.70 L326.14,626.48 L328.38,626.26 L330.63,626.04 L332.87,625.82 L335.11,625.59 L337.35,625.37 L339.59,625.15 L341.83,624.92 L344.08,624.70 L346.32,624.48 L348.56,624.25 L350.80,624.03 L353.04,623.80 L355.28,623.58 L357.53,623.35 L359.77,623.12 L362.01,622.89 L364.25,622.66 L366.49,622.43 L368.73,622.20 L370.98,621.97 L373.22,621.73 L375.46,621.50 L377.70,621.26 L379.94,621.03 L382.19,620.79 L384.43,620.55 L386.67,620.31 L388.91,620.07 L391.15,619.82 L393.39,619.58 L395.64,619.33 L397.88,619.08 L400.12,618.83 L402.36,618.58 L404.60,618.33 L406.84,618.08 L409.09,617.82 L411.33,617.56 L413.57,617.30 L415.81,617.04 L418.05,616.77 L420.29,616.50 L422.54,616.24 L424.78,615.96 L427.02,615.69 L429.26,615.42 L431.50,615.14 L433.75,614.86 L435.99,614.57 L438.23,614.29 L440.47,614.00 L442.71,613.71 L444.95,613.42 L447.20,613.12 L449.44,612.82 L451.68,612.51 L453.92,612.20 L456.16,611.89 L458.40,611.57 L460.65,611.25 L462.89,610.92 L465.13,610.59 L467.37,610.25 L469.61,609.91 L471.85,609.56 L474.10,609.20 L476.34,608.84 L478.58,608.47 L480.82,608.09 L483.06,607.71 L485.31,607.32 L487.55,606.92 L489.79,606.52 L492.03,606.10 L494.27,605.68 L496.51,605.25 L498.76,604.81 L501.00,604.37 L503.24,603.91 L505.48,603.45 L507.72,602.97 L509.96,602.49 L512.21,601.99 L514.45,601.49 L516.69,600.97 L518.93,600.45 L521.17,599.91 L523.41,599.36 L525.66,598.80 L527.90,598.23 L530.14,597.65 L532.38,597.06 L534.62,596.45 L536.86,595.83 L539.11,595.20 L541.35,594.55 L543.59,593.90 L545.83,593.23 L548.07,592.54 L550.32,591.84 L552.56,591.13 L554.80,590.41 L557.04,589.67 L559.28,588.93 L561.52,588.17 L563.77,587.40 L566.01,586.63 L568.25,585.84 L570.49,585.05 L572.73,584.25 L574.97,583.44 L577.22,582.62 L579.46,581.80 L581.70,580.98 L583.94,580.15 L586.18,579.31 L588.42,578.48 L590.67,577.64 L592.91,576.79 L595.15,575.95 L597.39,575.10 L599.63,574.26 L601.88,573.41 L604.12,572.57 L606.36,571.73 L608.60,570.89 L610.84,570.05 L613.08,569.22 L615.33,568.39 L617.57,567.56 L619.81,566.74 L622.05,565.92 L624.29,565.12 L626.53,564.31 L628.78,563.52 L631.02,562.73 L633.26,561.96 L635.50,561.19 L637.74,560.43 L639.98,559.68 L642.23,558.95 L644.47,558.22 L646.71,557.51 L648.95,556.81 L651.19,556.13 L653.44,555.46 L655.68,554.80 L657.92,554.16 L660.16,553.54 L662.40,552.93 L664.64,552.33 L666.89,551.74 L669.13,551.16 L671.37,550.58 L673.61,550.01 L675.85,549.42 L678.09,548.83 L680.34,548.23 L682.58,547.62 L684.82,546.99 L687.06,546.34 L689.30,545.67 L691.54,544.97 L693.79,544.25 L696.03,543.49 L698.27,542.69 L700.51,541.85 L702.75,540.98 L705.00,540.05 L707.24,539.08 L709.48,538.06 L711.72,536.98 L713.96,535.84 L716.20,534.65 L718.45,533.38 L720.69,532.05 L722.93,530.65 L725.17,529.17 L727.41,527.62 L729.65,525.98 L731.90,524.26 L734.14,522.45 L736.38,520.55 L738.62,518.56 L740.86,516.47 L743.10,514.29 L745.35,511.99 L747.59,509.59 L749.83,507.08 L752.07,504.46 L754.31,501.72 L756.56,498.87 L758.80,495.89 L761.04,492.78 L763.28,489.54 L765.52,486.17 L767.76,482.67 L770.01,479.03 L772.25,475.24 L774.49,471.32 L776.73,467.26 L778.97,463.08 L781.21,458.79 L783.46,454.40 L785.70,449.93 L787.94,445.36 L790.18,440.73 L792.42,436.04 L794.66,431.30 L796.91,426.51 L799.15,421.70 L801.39,416.86 L803.63,412.02 L805.87,407.17 L808.12,402.33 L810.36,397.51 L812.60,392.72 L814.84,387.98 L817.08,383.27 L819.32,378.63 L821.57,374.06 L823.81,369.57 L826.05,365.17 L828.29,360.86 L830.53,356.67 L832.77,352.59 L835.02,348.65 L837.26,344.84 L839.50,341.19 L841.74,337.69 L843.98,334.36 L846.22,331.21 L848.47,328.26 L850.71,325.50 L852.95,322.95 L855.19,320.62 L857.43,318.52 L859.67,316.66 L861.92,315.05 L864.16,313.70 L866.40,312.61 L868.64,311.81 L870.88,311.30 L873.13,311.09 L875.37,311.18 L877.61,311.60 L879.85,312.35 L882.09,313.43 L884.33,314.87 L886.58,316.65 L888.82,318.78 L891.06,321.22 L893.30,323.97 L895.54,327.03 L897.78,330.36 L900.03,333.96 L902.27,337.82 L904.51,341.92 L906.75,346.26 L908.99,350.80 L911.23,355.55 L913.48,360.49 L915.72,365.61 L917.96,370.89 L920.20,376.31 L922.44,381.88 L924.69,387.56 L926.93,393.35 L929.17,399.24 L931.41,405.21 L933.65,411.25 L935.89,417.35 L938.14,423.48 L940.38,429.65 L942.62,435.83 L944.86,442.01 L947.10,448.18 L949.34,454.32 L951.59,460.42 L953.83,466.48 L956.07,472.47 L958.31,478.37 L960.55,484.19 L962.79,489.90 L965.04,495.49 L967.28,500.95 L969.52,506.27 L971.76,511.42 L974.00,516.40 L976.25,521.20 L978.49,525.80 L980.73,530.18 L982.97,534.34 L985.21,538.25 L987.45,541.92 L989.70,545.32 L991.94,548.43 L994.18,551.26 L996.42,553.78 L998.66,555.99 L1000.90,557.90 L1003.15,559.51 L1005.39,560.84 L1007.63,561.90 L1009.87,562.69 L1012.11,563.22 L1014.35,563.49 L1016.60,563.53 L1018.84,563.33 L1021.08,562.90 L1023.32,562.26 L1025.56,561.41 L1027.81,560.35 L1030.05,559.10 L1032.29,557.67 L1034.53,556.06 L1036.77,554.28 L1039.01,552.35 L1041.26,550.26 L1043.50,548.03 L1045.74,545.66 L1047.98,543.16 L1050.22,540.55 L1052.46,537.83 L1054.71,535.01 L1056.95,532.09 L1059.19,529.09 L1061.43,526.01 L1063.67,522.86 L1065.91,519.65 L1068.16,516.39 L1070.40,513.08 L1072.64,509.74 L1074.88,506.38 L1077.12,502.99 L1079.37,499.60 L1081.61,496.20 L1083.85,492.81 L1086.09,489.43 L1088.33,486.07 L1090.57,482.75 L1092.82,479.46 L1095.06,476.23 L1097.30,473.04 L1099.54,469.93 L1101.78,466.88 L1104.02,463.92 L1106.27,461.04 L1108.51,458.27 L1110.75,455.59 L1112.99,453.00 L1115.23,450.52 L1117.47,448.12 L1119.72,445.81 L1121.96,443.59 L1124.20,441.46 L1126.44,439.41 L1128.68,437.43 L1130.93,435.54 L1133.17,433.71 L1135.41,431.96 L1137.65,430.28 L1139.89,428.67 L1142.13,427.12 L1144.38,425.63 L1146.62,424.21 L1148.86,422.84 L1151.10,421.52 L1153.34,420.26 L1155.58,419.04 L1157.83,417.88 L1160.07,416.75 L1162.31,415.67 L1164.55,414.63 L1166.79,413.63 L1169.03,412.66 L1171.28,411.72 L1173.52,410.82 L1175.76,409.94 L1178.00,409.08 L1180.24,408.25 L1182.48,407.44 L1184.73,406.64 L1186.97,405.86 L1189.21,405.09 L1191.45,404.33 L1193.69,403.58 L1195.94,402.84 L1198.18,402.09 L1200.42,401.35 L1202.66,400.60 L1204.90,399.85 L1207.14,399.09 L1209.39,398.32 L1211.63,397.54 L1213.87,396.74 L1216.11,395.92 L1218.35,395.09 L1220.59,394.23 L1222.84,393.35 L1225.08,392.45 L1227.32,391.52 L1229.56,390.58 L1231.80,389.61 L1234.04,388.62 L1236.29,387.62 L1238.53,386.59 L1240.77,385.55 L1243.01,384.48 L1245.25,383.40 L1247.50,382.31 L1249.74,381.19 L1251.98,380.06 L1254.22,378.92 L1256.46,377.75 L1258.70,376.58 L1260.95,375.39 L1263.19,374.19 L1265.43,372.97 L1267.67,371.75 L1269.91,370.51 L1272.15,369.26 L1274.40,368.00 L1276.64,366.73 L1278.88,365.45 L1281.12,364.16 L1283.36,362.86 L1285.60,361.56 L1287.85,360.24 L1290.09,358.92 L1292.33,357.60 L1294.57,356.27 L1296.81,354.93 L1299.06,353.59 L1301.30,352.24 L1303.54,350.89 L1305.78,349.54 L1308.02,348.19 L1310.26,346.83 L1312.51,345.47 L1314.75,344.11 L1316.99,342.75 L1319.23,341.39 L1321.47,340.03 L1323.71,338.67 L1325.96,337.32 L1328.20,335.97 L1330.44,334.62 L1332.68,333.27 L1334.92,331.92 L1337.16,330.58 L1339.41,329.25 L1341.65,327.91 L1343.89,326.58 L1346.13,325.26 L1348.37,323.93 L1350.62,322.61 L1352.86,321.30 L1355.10,319.98 L1357.34,318.67 L1359.58,317.37 L1361.82,316.06 L1364.07,314.76 L1366.31,313.47 L1368.55,312.17 L1370.79,310.88 L1373.03,309.59 L1375.27,308.31 L1377.52,307.03 L1379.76,305.75 L1382.00,304.47 L1384.24,303.20 L1386.48,301.93 L1388.72,300.66 L1390.97,299.40 L1393.21,298.14 L1395.45,296.88 L1397.69,295.63 L1399.93,294.37 L1402.18,293.13 L1404.42,291.88 L1406.66,290.63 L1408.90,289.39 L1411.14,288.15 L1413.38,286.92 L1415.63,285.69 L1417.87,284.46 L1420.11,283.23 L1422.35,282.00 L1424.59,280.78 L1426.83,279.56 L1429.08,278.34 L1431.32,277.13 L1433.56,275.91 L1435.80,274.70 L1438.04,273.50 L1440.28,272.29 L1442.53,271.09 L1444.77,269.89 L1447.01,268.69 L1449.25,267.49 L1451.49,266.30 L1453.74,265.11 L1455.98,263.92 L1458.22,262.73 L1460.46,261.55 L1462.70,260.36 L1464.94,259.18 L1467.19,258.00 L1469.43,256.83 L1471.67,255.65 L1473.91,254.48 L1476.15,253.31 L1478.39,252.14 L1480.64,250.98 L1482.88,249.81 L1485.12,248.65 L1487.36,247.49 L1489.60,246.33 L1491.84,245.17 L1494.09,244.02 L1496.33,242.87 L1498.57,241.71 L1500.81,240.56 L1503.05,239.42 L1505.29,238.27 L1507.54,237.13 L1509.78,235.98 L1512.02,234.84 L1514.26,233.70 L1516.50,232.57 L1518.75,231.43 L1520.99,230.29 L1523.23,229.16 L1525.47,228.03 L1527.71,226.90 L1529.95,225.77 L1532.20,224.64 L1534.44,223.52 L1536.68,222.39 L1538.92,221.27 L1541.16,220.15 L1543.40,219.03 L1545.65,217.91 L1547.89,216.79 L1550.13,215.67 L1552.37,214.56 L1554.61,213.45 L1556.85,212.33 L1559.10,211.22 L1561.34,210.11 L1563.58,209.00 L1565.82,207.89 L1568.06,206.78 L1570.31,205.68 L1572.55,204.57 L1574.79,203.47 L1577.03,202.36 L1579.27,201.26 L1581.51,200.16 L1583.76,199.06 L1586.00,197.96 L1588.24,196.86 L1590.48,195.76 L1592.72,194.66 L1594.96,193.57 L1597.21,192.47 L1599.45,191.38 L1601.69,190.28 L1603.93,189.19 L1606.17,188.10 L1608.41,187.00 L1610.66,185.91 L1612.90,184.82 L1615.14,183.73 L1617.38,182.64 L1619.62,181.55 L1621.87,180.46 L1624.11,179.37 L1626.35,178.28 L1628.59,177.20 L1630.83,176.11 L1633.07,175.02 L1635.32,173.94 L1637.56,172.85 L1639.80,171.76 L1642.04,170.68 L1644.28,169.59 L1646.52,168.51 L1648.77,167.42 L1651.01,166.34 L1653.25,165.25 L1655.49,164.17 L1657.73,163.08 L1659.97,162.00 L1662.22,160.92 L1664.46,159.83 L1666.70,158.75" stroke="#000000" stroke-width="2.5" fill="none" stroke-linejoin="round"/><path d="M307.40,617.20 L340.40,617.20 L323.90,645.90Z" fill="#000000"/><path d="M419.30,605.10 L452.30,605.10 L435.80,633.80Z" fill="#000000"/><path d="M531.20,583.16 L564.20,583.16 L547.70,611.86Z" fill="#000000"/><path d="M643.10,544.19 L676.10,544.19 L659.60,572.89Z" fill="#000000"/><path d="M755.00,467.02 L788.00,467.02 L771.50,495.72Z" fill="#000000"/><path d="M866.90,304.73 L899.90,304.73 L883.40,333.43Z" fill="#000000"/><path d="M978.80,543.06 L1011.80,543.06 L995.30,571.76Z" fill="#000000"/><path d="M1090.70,450.37 L1123.70,450.37 L1107.20,479.07Z" fill="#000000"/><path d="M1202.60,385.31 L1235.60,385.31 L1219.10,414.01Z" fill="#000000"/><path d="M1314.50,324.78 L1347.50,324.78 L1331.00,353.48Z" fill="#000000"/><path d="M1650.20,149.25 L1683.20,149.25 L1666.70,177.95Z" fill="#000000"/></g>
<text x="212.00" y="688.6" font-family="'Liberation Serif', 'Times New Roman', serif" font-size="51.5" text-anchor="middle">2</text>
<text x="435.80" y="688.6" font-family="'Liberation Serif', 'Times New Roman', serif" font-size="51.5" text-anchor="middle">4</text>
<text x="659.60" y="688.6" font-family="'Liberation Serif', 'Times New Roman', serif" font-size="51.5" text-anchor="middle">6</text>
<text x="883.40" y="688.6" font-family="'Liberation Serif', 'Times New Roman', serif" font-size="51.5" text-anchor="middle">8</text>
<text x="1107.20" y="688.6" font-family="'Liberation Serif', 'Times New Roman', serif" font-size="51.5" text-anchor="middle">10</text>
<text x="1331.00" y="688.6" font-family="'Liberation Serif', 'Times New Roman', serif" font-size="51.5" text-anchor="middle">12</text>
<text x="1554.80" y="688.6" font-family="'Liberation Serif', 'Times New Roman', serif" font-size="51.5" text-anchor="middle">14</text>
<text x="1778.60" y="688.6" font-family="'Liberation Serif', 'Times New Roman', serif" font-size="51.5" text-anchor="middle">16</text>
<text x="194.6" y="647.10" font-family="'Liberation Serif', 'Times New Roman', serif" font-size="50.5" text-anchor="end">0.0</text>
<text x="194.6" y="533.61" font-family="'Liberation Serif', 'Times New Roman', serif" font-size="50.5" text-anchor="end">0.3</text>
<text x="194.6" y="420.12" font-family="'Liberation Serif', 'Times New Roman', serif" font-size="50.5" text-anchor="end">0.6</text>
<text x="194.6" y="306.63" font-family="'Liberation Serif', 'Times New Roman', serif" font-size="50.5" text-anchor="end">0.9</text>
<text x="194.6" y="193.14" font-family="'Liberation Serif', 'Times New Roman', serif" font-size="50.5" text-anchor="end">1.2</text>
<text x="194.6" y="79.65" font-family="'Liberation Serif', 'Times New Roman', serif" font-size="50.5" text-anchor="end">1.5</text>
<text x="796.8" y="783" font-family="'Liberation Serif', 'Times New Roman', serif" font-size="65" textLength="399.6" lengthAdjust="spacingAndGlyphs">Wave period(s)</text>
<text transform="translate(89.7,662) rotate(-90)" x="0" y="0" font-family="'Liberation Serif', 'Times New Roman', serif" font-size="64">The RAO of surge ( m )</text>
<rect x="234" y="75" width="592" height="270" fill="#fff" stroke="#000" stroke-width="2"/><line x1="238.5" y1="115" x2="337" y2="115" stroke="#ff0000" stroke-width="2.5" shape-rendering="crispEdges"/><circle cx="287.70" cy="115.00" r="13.6" fill="#ff0000" shape-rendering="crispEdges"/><text x="345.6" y="129.5" font-family="'Liberation Serif', 'Times New Roman', serif" font-size="41.5" textLength="73.1" lengthAdjust="spacingAndGlyphs">TLP</text><line x1="238.5" y1="181" x2="337" y2="181" stroke="#0000ff" stroke-width="4" shape-rendering="crispEdges"/><rect x="275.30" y="168.80" width="24.8" height="24.4" fill="#0000ff" shape-rendering="crispEdges"/><text x="345.6" y="195.5" font-family="'Liberation Serif', 'Times New Roman', serif" font-size="41.5" textLength="473.7" lengthAdjust="spacingAndGlyphs">Serbuoy-TLP(D,-60m,1000t)</text><line x1="238.5" y1="247" x2="337" y2="247" stroke="#ff8415" stroke-width="2.5" shape-rendering="crispEdges"/><path d="M287.70,230.00 L305.00,247.00 L287.70,264.00 L270.40,247.00Z" fill="#ff8415" shape-rendering="crispEdges"/><text x="345.6" y="261.7" font-family="'Liberation Serif', 'Times New Roman', serif" font-size="41.5" textLength="469.4" lengthAdjust="spacingAndGlyphs">Serbuoy-TLP(E,-95m,1000t)</text><line x1="238.5" y1="313" x2="337" y2="313" stroke="#000000" stroke-width="2.5" shape-rendering="crispEdges"/><path d="M271.20,303.50 L304.20,303.50 L287.70,332.20Z" fill="#000000" shape-rendering="crispEdges"/><text x="345.6" y="328.8" font-family="'Liberation Serif', 'Times New Roman', serif" font-size="41.5" textLength="467.7" lengthAdjust="spacingAndGlyphs">Serbuoy-TLP(F,-95m,2000t)</text></svg>
</body></html>
